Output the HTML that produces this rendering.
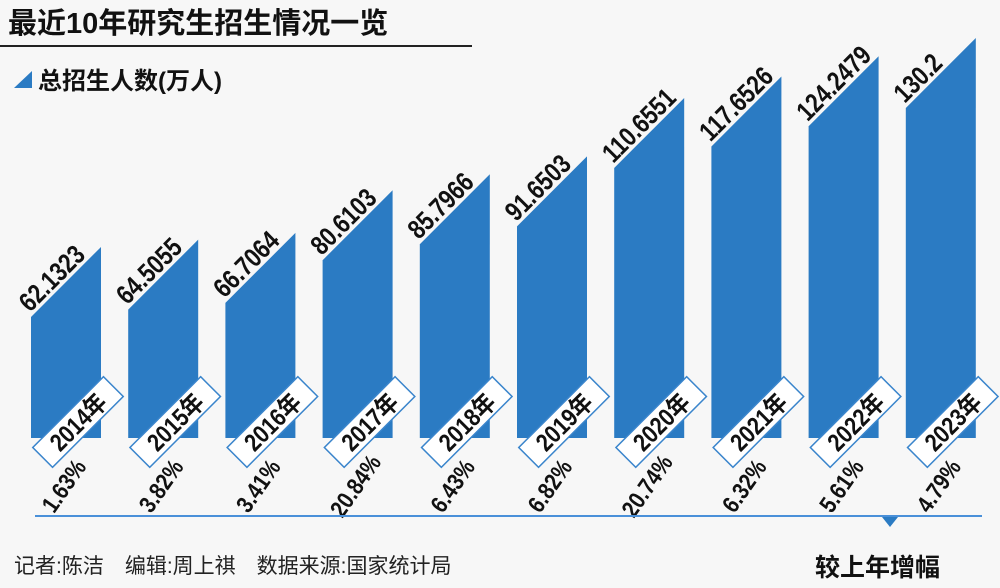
<!DOCTYPE html>
<html><head><meta charset="utf-8"><style>
body{margin:0;background:#f7f7f7;}
svg{display:block;font-family:"Liberation Sans","Noto Sans CJK SC",sans-serif;}
</style></head><body>
<svg width="1000" height="588" viewBox="0 0 1000 588">
<rect width="1000" height="588" fill="#f7f7f7"/>
<text x="8" y="33" font-size="29" font-weight="bold" fill="#111">最近10年研究生招生情况一览</text>
<line x1="0" y1="46" x2="472" y2="46" stroke="#222" stroke-width="2"/>
<polygon points="14,88 32,71 32,88" fill="#2b7bc3"/>
<text x="38" y="89" font-size="24" font-weight="bold" fill="#111">总招生人数(万人)</text>
<g id="bars"></g>
<line x1="35" y1="516" x2="982" y2="516" stroke="#4a90d9" stroke-width="2"/>
<polygon points="882,517 898,517 890,527" fill="#2b7bc3"/>
<text x="14" y="573" font-size="21" fill="#222">记者:陈洁　编辑:周上祺　数据来源:国家统计局</text>
<text x="815" y="576" font-size="25" font-weight="bold" fill="#111">较上年增幅</text>
</svg>
<script>
const years = ["2014年","2015年","2016年","2017年","2018年","2019年","2020年","2021年","2022年","2023年"];
const values = [62.1323,64.5055,66.7064,80.6103,85.7966,91.6503,110.6551,117.6526,124.2479,130.2];
const valueLabels = ["62.1323","64.5055","66.7064","80.6103","85.7966","91.6503","110.6551","117.6526","124.2479","130.2"];
const growth = ["1.63%","3.82%","3.41%","20.84%","6.43%","6.82%","20.74%","6.32%","5.61%","4.79%"];
const NS="http://www.w3.org/2000/svg";
const g=document.getElementById('bars');
const bottom=438, x0=31, pitch=97.2, bw=70;
function xScale(i){return x0+i*pitch;}
function hScale(v){return 3.07*(v-22.7);}
function mk(t,a){const e=document.createElementNS(NS,t);for(const k in a)e.setAttribute(k,a[k]);g.appendChild(e);return e;}
values.forEach((v,i)=>{
  const xl=xScale(i), xr=xl+bw, yt=bottom-hScale(v);
  const p=mk('polygon',{points:`${xl},${bottom} ${xl},${yt} ${xr},${yt-bw} ${xr},${bottom}`,fill:'#2b7bc3'});
  
  
  const t=mk('text',{x:0,y:0,'font-size':27,'font-weight':'bold',fill:'#111',transform:`translate(${xl-1},${yt-4}) rotate(-45) scale(0.82,1)`});
  t.textContent=valueLabels[i];
  
  
  const cx=xl+47, cy=bottom-16;
  const b=mk('rect',{x:-50,y:-14,width:100,height:28,fill:'#fff',stroke:'#3a85cc','stroke-width':1.5,transform:`translate(${cx},${cy}) rotate(-45)`});
  
  
  const yt2=mk('text',{x:0,y:9,'text-anchor':'middle','font-size':25,'font-weight':'bold',fill:'#111',transform:`translate(${cx},${cy}) rotate(-45) scale(0.85,1)`});
  yt2.textContent=years[i];
  
  
  const gt=mk('text',{x:0,y:8,'text-anchor':'middle','font-size':24,'font-weight':'bold',fill:'#111',transform:`translate(${xl+33},${486}) rotate(-55) scale(0.85,1)`});
  gt.textContent=growth[i];
  
  
});
</script>
</body></html>
